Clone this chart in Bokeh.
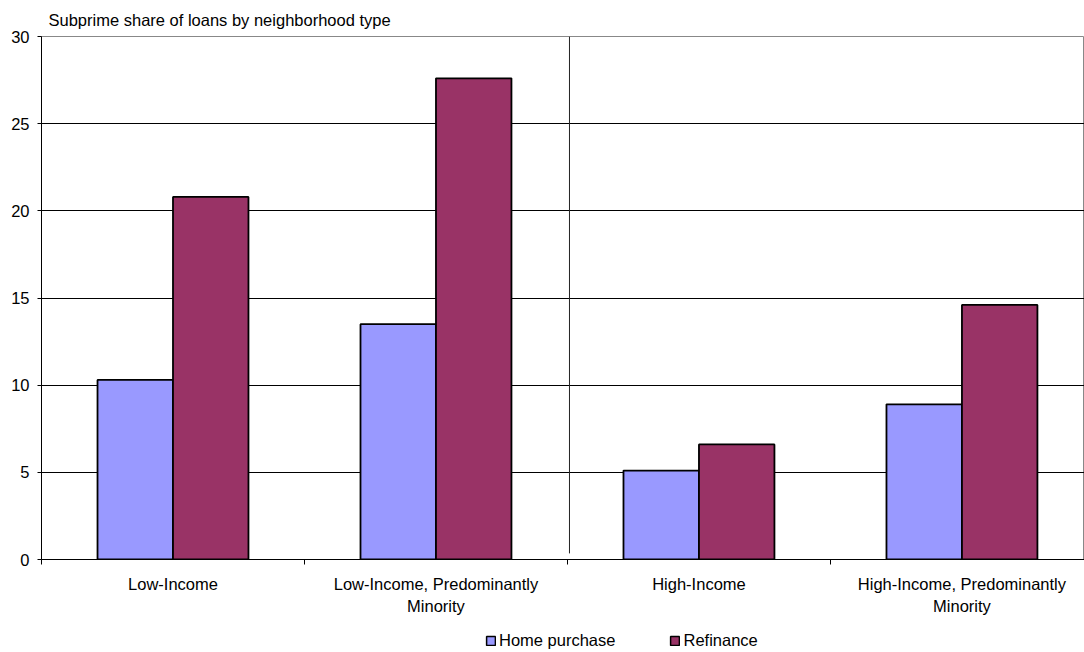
from bokeh.plotting import figure
from bokeh.layouts import column
from bokeh.models import (Range1d, FixedTicker, ColumnDataSource, Legend, LegendItem,
                          LinearAxis)
from bokeh.embed import file_html
from bokeh.resources import INLINE

# Subprime share of loans (%) by neighborhood type
categories = [
    "Low-Income",
    "Low-Income, Predominantly\nMinority",
    "High-Income",
    "High-Income, Predominantly\nMinority",
]
home_purchase = [10.3, 13.5, 5.1, 8.9]
refinance = [20.8, 27.6, 6.6, 14.6]
series_names = ["Home purchase", "Refinance"]
y_ticks = [0, 5, 10, 15, 20, 25, 30]

FONT = "Liberation Sans"
FS = "16.5px"
HOME_COLOR = "#9999FF"
REFI_COLOR = "#993366"

centers = [i + 0.5 for i in range(len(categories))]
dodge = 0.1435
bar_w = 0.287

src = ColumnDataSource(dict(
    home_x=[c - dodge for c in centers],
    refi_x=[c + dodge for c in centers],
    home=home_purchase,
    refi=refinance,
))

p = figure(
    frame_width=1043, frame_height=523,
    x_range=Range1d(0, 3.966), y_range=Range1d(0, 30),
    output_backend="svg", toolbar_location=None,
    x_axis_location=None, y_axis_location=None,
    min_border_left=41, min_border_right=0, min_border_top=36, min_border_bottom=66,
)
p.outline_line_color = "#888888"
p.background_fill_color = "white"
p.border_fill_color = "white"

# y axis
yaxis = LinearAxis(ticker=FixedTicker(ticks=y_ticks, minor_ticks=[]))
yaxis.axis_line_color = "black"
yaxis.major_tick_line_color = "black"
yaxis.major_tick_out = 4
yaxis.major_tick_in = 0
yaxis.minor_tick_line_color = None
yaxis.major_label_text_font = FONT
yaxis.major_label_text_font_size = FS
yaxis.major_label_text_color = "black"
yaxis.major_label_standoff = 8
p.add_layout(yaxis, "left")

# x axis: category names centred, tick marks between groups
xaxis = LinearAxis(ticker=FixedTicker(ticks=centers, minor_ticks=[0, 1, 2, 3, 4]))
xaxis.major_label_overrides = {c: name for c, name in zip(centers, categories)}
xaxis.axis_line_color = "black"
xaxis.major_tick_line_color = None
xaxis.major_tick_out = 0
xaxis.major_tick_in = 0
xaxis.minor_tick_line_color = "black"
xaxis.minor_tick_out = 5
xaxis.minor_tick_in = 0
xaxis.major_label_text_font = FONT
xaxis.major_label_text_font_size = FS
xaxis.major_label_text_color = "black"
xaxis.major_label_text_line_height = 1.27
xaxis.major_label_standoff = 10
p.add_layout(xaxis, "below")

p.xgrid.visible = False
p.ygrid.ticker = FixedTicker(ticks=y_ticks[1:-1])
p.ygrid.grid_line_color = "black"
p.ygrid.grid_line_width = 1

# divider between low- and high-income groups
p.segment(x0=[2.0076], y0=[0.35], x1=[2.0076], y1=[30], line_color="#222222", line_width=1)

p.vbar(x="home_x", top="home", width=bar_w, bottom=0, source=src,
       fill_color=HOME_COLOR, line_color="black", line_width=1.8)
p.vbar(x="refi_x", top="refi", width=bar_w, bottom=0, source=src,
       fill_color=REFI_COLOR, line_color="black", line_width=1.8)

p.title.text = "Subprime share of loans by neighborhood type"
p.title.text_font = FONT
p.title.text_font_size = FS
p.title.text_font_style = "normal"
p.title.text_color = "black"
p.title.align = "left"
p.title.offset = 7
p.title.standoff = 16

# legend strip beneath the chart; swatch renderers hold a NaN bar so nothing is drawn
leg = figure(
    width=1084, height=27, x_range=Range1d(0, 1), y_range=Range1d(0, 1),
    output_backend="svg", toolbar_location=None,
    x_axis_location=None, y_axis_location=None, min_border=0,
)
leg.outline_line_color = None
leg.xgrid.visible = False
leg.ygrid.visible = False
nan = float("nan")
leg_home = leg.vbar(x=[0.5], top=[nan], bottom=0, width=0.1, fill_color=HOME_COLOR,
                    line_color="black", line_width=1.5)
leg_refi = leg.vbar(x=[0.5], top=[nan], bottom=0, width=0.1, fill_color=REFI_COLOR,
                    line_color="black", line_width=1.5)

legend = Legend(items=[LegendItem(label=series_names[0], renderers=[leg_home]),
                       LegendItem(label=series_names[1], renderers=[leg_refi])],
                orientation="horizontal", location=(444, 2))
legend.label_text_font = FONT
legend.label_text_font_size = FS
legend.label_text_color = "black"
legend.glyph_width = 11
legend.glyph_height = 11
legend.label_standoff = 3
legend.spacing = 54
legend.padding = 0
legend.margin = 0
legend.border_line_color = None
legend.background_fill_alpha = 0
legend.label_height = 18
leg.add_layout(legend, "center")

open("out.html", "w").write(file_html(column(p, leg, spacing=0), INLINE))
